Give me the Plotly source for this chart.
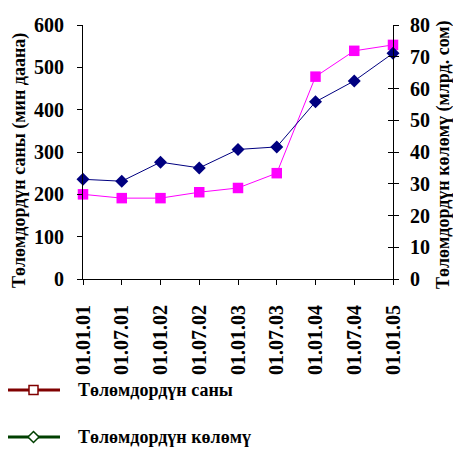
import plotly.graph_objects as go

# Payment statistics by reporting date
dates = ["01.01.01", "01.07.01", "01.01.02", "01.07.02", "01.01.03",
         "01.07.03", "01.01.04", "01.07.04", "01.01.05"]
payments_count = [200, 191, 191, 205, 215, 250, 478, 539, 553]    # thousand units
payments_volume = [31.4, 30.8, 36.8, 35.0, 40.8, 41.6, 55.8, 62.4, 71.1]  # bn som

name_count = "Төлөмдордүн саны"
name_volume = "Төлөмдордүн көлөмү"
title_left = "Төлөмдордүн саны (мин даана)"
title_right = "Төлөмдордүн көлөмү (млрд. сом)"

FONT = "Liberation Serif"
W, H = 453, 450
L, R, T, B = 83, 60, 25, 171
PW, PH = W - L - R, H - T - B


def px(x):
    """pixel column -> paper x"""
    return (x - L) / PW


def py(y):
    """pixel row -> paper y"""
    return (H - B - y) / PH


pos = list(range(len(dates)))
bold = dict(family=FONT, color="black", weight="bold")

fig = go.Figure()

fig.add_trace(go.Scatter(
    x=pos, y=payments_count, mode="lines+markers", name=name_count,
    showlegend=False,
    line=dict(color="#FF00FF", width=1),
    marker=dict(symbol="square", size=10.5, color="#FF00FF"),
    cliponaxis=False, yaxis="y"))

fig.add_trace(go.Scatter(
    x=pos, y=payments_volume, mode="lines+markers", name=name_volume,
    showlegend=False,
    line=dict(color="#000080", width=1),
    marker=dict(symbol="diamond", size=10, color="#000080"),
    cliponaxis=False, yaxis="y2"))

# third axis only carries inner tick marks on the right side
fig.add_trace(go.Scatter(x=pos, y=[None] * len(pos), yaxis="y3",
                         showlegend=False, hoverinfo="skip"))

fig.update_layout(
    width=W, height=H,
    margin=dict(l=L, r=R, t=T, b=B, autoexpand=False),
    paper_bgcolor="white", plot_bgcolor="white",
    font=dict(family=FONT, color="black"),
    showlegend=False,
    xaxis=dict(
        range=[0, len(dates) - 1], tickmode="array", tickvals=pos,
        ticktext=dates, tickangle=-90, tickfont=dict(bold, size=20),
        ticklabelstandoff=12,
        showgrid=False, zeroline=False, showline=True, linecolor="black",
        linewidth=1, ticks="outside", ticklen=5, tickcolor="black"),
    yaxis=dict(
        range=[0, 600], dtick=100, showgrid=False, zeroline=False,
        showline=True, linecolor="black", linewidth=1,
        ticks="outside", ticklen=5, tickcolor="black",
        tickfont=dict(bold, size=20), ticklabelstandoff=9),
    yaxis2=dict(
        range=[0, 80], dtick=10, overlaying="y", side="right", anchor="x",
        showgrid=False, zeroline=False, showline=True, linecolor="black",
        linewidth=1, ticks="outside", ticklen=5, tickcolor="black",
        tickfont=dict(bold, size=20), ticklabelstandoff=7),
    yaxis3=dict(
        range=[0, 80], dtick=10, overlaying="y", side="right", anchor="x",
        showgrid=False, zeroline=False, showline=False, showticklabels=False,
        ticks="inside", ticklen=5, tickcolor="black"),
)

# axis titles
fig.add_annotation(text=title_left, xref="paper", yref="paper",
                   x=px(20), y=py(161), textangle=-90, showarrow=False,
                   xanchor="center", yanchor="middle", font=dict(bold, size=18))
fig.add_annotation(text=title_right, xref="paper", yref="paper",
                   x=px(443), y=py(155), textangle=-90, showarrow=False,
                   xanchor="center", yanchor="middle", font=dict(bold, size=18))

# legend drawn below the chart
legend_items = [
    (name_count, "#800000", "square", 390),
    (name_volume, "#004000", "diamond", 437),
]
for label, color, shape, yc in legend_items:
    fig.add_shape(type="line", xref="paper", yref="paper",
                  x0=px(8), x1=px(60), y0=py(yc), y1=py(yc),
                  line=dict(color=color, width=3))
    if shape == "square":
        fig.add_shape(type="rect", xref="paper", yref="paper",
                      x0=px(29), x1=px(38), y0=py(yc - 4.5), y1=py(yc + 4.5),
                      fillcolor="white", line=dict(color=color, width=1.5))
    else:
        cx = 33.5
        path = (f"M {px(cx)},{py(yc - 5.5)} L {px(cx + 5.5)},{py(yc)} "
                f"L {px(cx)},{py(yc + 5.5)} L {px(cx - 5.5)},{py(yc)} Z")
        fig.add_shape(type="path", xref="paper", yref="paper", path=path,
                      fillcolor="white", line=dict(color=color, width=1.5))
    fig.add_annotation(text=label, xref="paper", yref="paper",
                       x=px(77), y=py(yc), showarrow=False, borderpad=0,
                       xanchor="left", yanchor="middle", font=dict(bold, size=18))

fig.write_html("out.html")
